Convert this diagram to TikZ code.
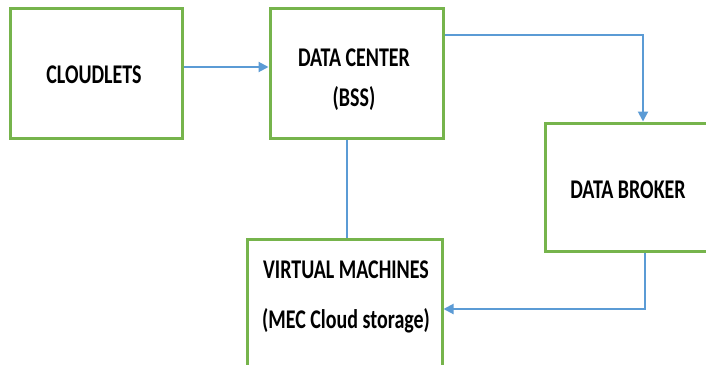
\documentclass[tikz,border=0pt]{standalone}
\usepackage{fontspec}
\setmainfont[FakeStretch=0.74]{Carlito}
\usetikzlibrary{arrows.meta}
\definecolor{boxgreen}{RGB}{118,180,76}
\definecolor{arrblue}{RGB}{91,155,213}
\tikzset{
  box/.style={draw=boxgreen, line width=3pt, fill=white, inner sep=0pt},
  lbl/.style={font=\fontsize{27}{31}\selectfont\bfseries, text=black, inner sep=0pt},
  arr/.style={draw=arrblue, line width=2pt, -{Triangle[length=10pt,width=10pt]}},
  ln/.style={draw=arrblue, line width=1.5pt}
}
\begin{document}
\begin{tikzpicture}[x=1pt,y=-1pt]
\clip (0,0) rectangle (706,364);
\fill[white] (0,0) rectangle (706,364);
% boxes
\node[box, minimum width=172pt, minimum height=130pt] (cl) at (96,73) {};
\node[box, minimum width=173pt, minimum height=130pt] (dc) at (356.5,73) {};
\node[box, minimum width=171pt, minimum height=128pt] (br) at (630.5,187) {};
\node[box, minimum width=195pt, minimum height=127pt] (vm) at (344.5,302.5) {};
% texts
\node[lbl] (clt) at (94,75) {CLOUDLETS};
\node[lbl] (dct1) at (354,58) {DATA CENTER};
\node[lbl] (dct2) at (354,99) {(BSS)};
\node[lbl] (brt) at (628,190) {DATA BROKER};
\node[lbl] (vmt1) at (346,270) {VIRTUAL MACHINES};
\node[lbl] (vmt2) at (346,321) {(MEC Cloud storage)};
% connectors
\draw[arr] ([yshift=6pt]cl.east) -- ([yshift=6pt]dc.west);
\draw[arr] ([yshift=38pt]dc.east) -| ([xshift=12.5pt]br.north);
\draw[ln] ([xshift=-9.5pt]dc.south) -- ([xshift=-9.5pt]dc.south |- vm.north);
\draw[arr] ([xshift=14.5pt]br.south) |- ([yshift=-6.5pt]vm.east);
\end{tikzpicture}
\end{document}
